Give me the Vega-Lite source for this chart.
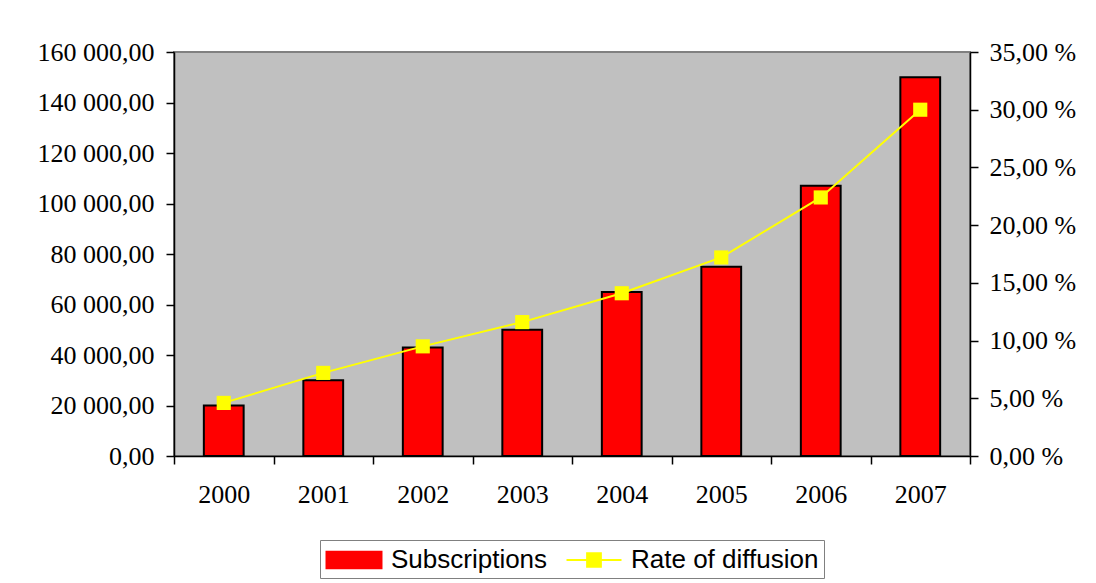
{
  "$schema": "https://vega.github.io/schema/vega-lite/v6.json",
  "autosize": {"type": "none"},
  "padding": {"left": 174, "top": 52, "right": 126, "bottom": 127},
  "width": 796,
  "height": 404,
  "background": "white",
  "config": {
    "locale": {"number": {"decimal": ",", "thousands": " ", "grouping": [3], "currency": ["", ""]}},
    "view": {"fill": "#C0C0C0", "stroke": "#808080", "strokeWidth": 2},
    "axis": {
      "labelFont": "Liberation Serif",
      "labelFontSize": 26,
      "labelColor": "black",
      "domainColor": "black",
      "domainWidth": 1.5,
      "tickColor": "black",
      "tickWidth": 1.5,
      "grid": false,
      "title": null
    },
    "legend": {
      "title": null,
      "orient": "none",
      "legendX": 146,
      "legendY": 488,
      "direction": "horizontal",
      "columns": 2,
      "strokeColor": "#808080",
      "fillColor": "white",
      "padding": 5,
      "labelFont": "Liberation Sans",
      "labelFontSize": 26,
      "labelColor": "black",
      "labelLimit": 400,
      "symbolSize": 756,
      "symbolOffset": 14,
      "labelOffset": 22,
      "columnPadding": 14
    }
  },
  "data": {
    "values": [
      {"year": "2000", "subs": 20000, "rate": 4.6},
      {"year": "2001", "subs": 30000, "rate": 7.2},
      {"year": "2002", "subs": 43000, "rate": 9.5},
      {"year": "2003", "subs": 50000, "rate": 11.6},
      {"year": "2004", "subs": 65000, "rate": 14.1},
      {"year": "2005", "subs": 75000, "rate": 17.2},
      {"year": "2006", "subs": 107000, "rate": 22.4},
      {"year": "2007", "subs": 150000, "rate": 30.0}
    ]
  },
  "encoding": {
    "x": {
      "field": "year",
      "type": "ordinal",
      "scale": {"paddingInner": 0, "paddingOuter": 0},
      "axis": {"labelAngle": 0, "tickBand": "extent", "tickSize": 8, "labelPadding": 17}
    }
  },
  "layer": [
    {
      "mark": {"type": "bar", "width": {"band": 0.4}, "stroke": "black", "strokeWidth": 2},
      "encoding": {
        "y": {
          "field": "subs",
          "type": "quantitative",
          "scale": {"domain": [0, 160000], "nice": false},
          "axis": {"orient": "left", "values": [0, 20000, 40000, 60000, 80000, 100000, 120000, 140000, 160000], "format": ",.2f", "tickSize": 8, "labelPadding": 12}
        },
        "color": {
          "datum": "Subscriptions",
          "scale": {"domain": ["Subscriptions", "Rate of diffusion"], "range": ["#FF0000", "#FFFF00"]},
          "legend": {
            "encode": {
              "symbols": {
                "update": {
                  "shape": {"signal": "datum.value === 'Subscriptions' ? 'M-2,-0.6H2V0.6H-2Z' : 'M-2,0H2M-0.5,-0.5H0.5V0.5H-0.5Z'"},
                  "fill": {"signal": "datum.value === 'Subscriptions' ? '#FF0000' : '#FFFF00'"},
                  "stroke": {"signal": "datum.value === 'Subscriptions' ? 'black' : '#FFFF00'"},
                  "strokeWidth": {"value": 2},
                  "opacity": {"value": 1}
                }
              }
            }
          }
        }
      }
    },
    {
      "mark": {
        "type": "line",
        "strokeWidth": 2,
        "point": {"shape": "square", "size": 200, "filled": true, "color": "#FFFF00", "opacity": 1}
      },
      "encoding": {
        "y": {
          "field": "rate",
          "type": "quantitative",
          "scale": {"domain": [0, 35], "nice": false},
          "axis": {"orient": "right", "values": [0, 5, 10, 15, 20, 25, 30, 35], "format": ".2f", "labelExpr": "datum.label + ' %'", "tickSize": 8, "labelPadding": 11}
        },
        "color": {
          "datum": "Rate of diffusion",
          "legend": {
            "encode": {
              "symbols": {
                "update": {
                  "shape": {"signal": "datum.value === 'Subscriptions' ? 'M-2,-0.6H2V0.6H-2Z' : 'M-2,0H2M-0.5,-0.5H0.5V0.5H-0.5Z'"},
                  "fill": {"signal": "datum.value === 'Subscriptions' ? '#FF0000' : '#FFFF00'"},
                  "stroke": {"signal": "datum.value === 'Subscriptions' ? 'black' : '#FFFF00'"},
                  "strokeWidth": {"value": 2},
                  "opacity": {"value": 1}
                }
              }
            }
          }
        }
      }
    }
  ],
  "resolve": {"scale": {"y": "independent"}}
}
